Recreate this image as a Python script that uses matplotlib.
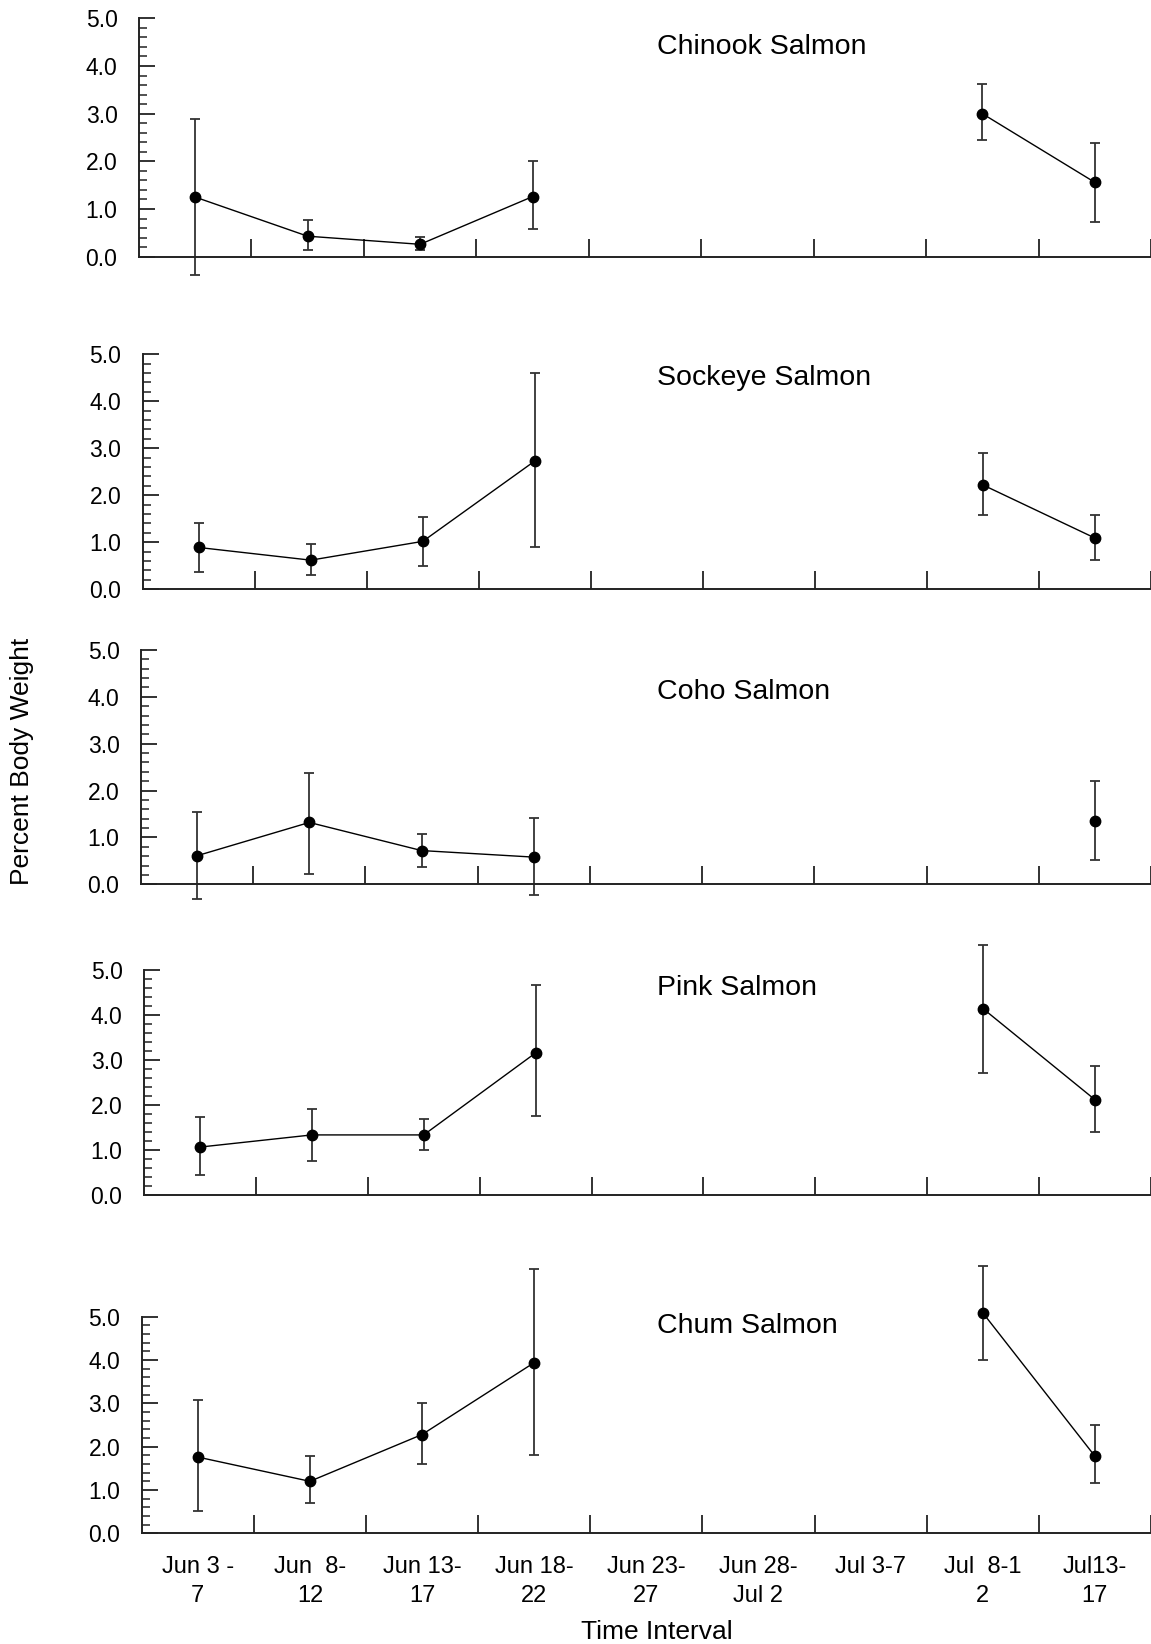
import numpy as np
import matplotlib.pyplot as plt
from matplotlib.ticker import MultipleLocator, FixedLocator

plt.rcParams['font.family'] = ['Liberation Sans', 'DejaVu Sans']

nan = np.nan

intervals = ['Jun 3 -\n7', 'Jun  8-\n12', 'Jun 13-\n17', 'Jun 18-\n22', 'Jun 23-\n27',
             'Jun 28-\nJul 2', 'Jul 3-7', 'Jul  8-1\n2', 'Jul13-\n17']

species = ['Chinook Salmon', 'Sockeye Salmon', 'Coho Salmon', 'Pink Salmon', 'Chum Salmon']

# mean percent body weight, upper and lower ends of the error bars
chinook    = [1.25, 0.43, 0.26, 1.26, nan, nan, nan, 3.00, 1.56]
chinook_hi = [2.88, 0.76, 0.42, 2.01, nan, nan, nan, 3.62, 2.38]
chinook_lo = [-0.39, 0.14, 0.15, 0.59, nan, nan, nan, 2.44, 0.73]

sockeye    = [0.89, 0.62, 1.02, 2.73, nan, nan, nan, 2.22, 1.09]
sockeye_hi = [1.40, 0.96, 1.53, 4.60, nan, nan, nan, 2.89, 1.58]
sockeye_lo = [0.36, 0.31, 0.49, 0.91, nan, nan, nan, 1.58, 0.62]

coho    = [0.61, 1.32, 0.72, 0.58, nan, nan, nan, nan, 1.35]
coho_hi = [1.55, 2.38, 1.08, 1.41, nan, nan, nan, nan, 2.20]
coho_lo = [-0.31, 0.22, 0.36, -0.22, nan, nan, nan, nan, 0.52]

pink    = [1.07, 1.34, 1.34, 3.16, nan, nan, nan, 4.14, 2.12]
pink_hi = [1.73, 1.91, 1.70, 4.67, nan, nan, nan, 5.56, 2.86]
pink_lo = [0.44, 0.76, 1.00, 1.77, nan, nan, nan, 2.72, 1.40]

chum    = [1.76, 1.20, 2.28, 3.94, nan, nan, nan, 5.09, 1.78]
chum_hi = [3.07, 1.78, 3.00, 6.10, nan, nan, nan, 6.16, 2.51]
chum_lo = [0.52, 0.71, 1.59, 1.81, nan, nan, nan, 4.01, 1.17]

means = [chinook, sockeye, coho, pink, chum]
his = [chinook_hi, sockeye_hi, coho_hi, pink_hi, chum_hi]
los = [chinook_lo, sockeye_lo, coho_lo, pink_lo, chum_lo]

W, H = 1151, 1644
fig = plt.figure(figsize=(W / 100, H / 100), dpi=100)

# panel boxes in pixels: left spine x, y of 0.0, y of 5.0
boxes = [(139, 256.7, 18.3), (142.7, 589.3, 354.3), (141, 884.3, 650),
         (144, 1195.3, 970), (141.7, 1533.3, 1316.7)]
title_y = [47, 378, 692, 988, 1326]

x = np.arange(len(intervals)) + 0.5

for k in range(5):
    left, y0, y5 = boxes[k]
    ax = fig.add_axes([left / W, 1 - y0 / H, (W - left) / W, (y0 - y5) / H])
    m = np.array(means[k], dtype=float)
    hi = np.array(his[k], dtype=float)
    lo = np.array(los[k], dtype=float)
    ok = ~np.isnan(m)
    ax.errorbar(x[ok], m[ok], yerr=[m[ok] - lo[ok], hi[ok] - m[ok]], fmt='none',
                ecolor='#333333', elinewidth=1.3, capsize=3.8, capthick=1.3, clip_on=False)
    ax.plot(x, m, color='black', lw=1.0, marker='o', ms=7.5, mfc='black', mec='black',
            clip_on=False, zorder=3)

    ax.set_xlim(0, 9)
    ax.set_ylim(0, 5)
    for s in ['top', 'right']:
        ax.spines[s].set_visible(False)
    for s in ['left', 'bottom']:
        ax.spines[s].set_linewidth(1.4)
        ax.spines[s].set_color('#222222')

    ax.yaxis.set_major_locator(MultipleLocator(1))
    ax.yaxis.set_minor_locator(MultipleLocator(0.2))
    ax.yaxis.set_major_formatter(plt.FuncFormatter(lambda v, p: '%.1f' % v))
    ax.tick_params(axis='y', which='major', direction='in', length=11.5, width=1.3,
                   labelsize=16.5, pad=15.5, color='#222222')
    ax.tick_params(axis='y', which='minor', direction='in', length=6, width=1.1, color='#222222')

    ax.xaxis.set_major_locator(FixedLocator(np.arange(1, 10)))
    ax.xaxis.set_minor_locator(FixedLocator(x))
    ax.tick_params(axis='x', which='major', direction='in', length=13, width=1.3,
                   labelbottom=False, color='#222222')
    ax.tick_params(axis='x', which='minor', length=0, labelsize=17, pad=16)
    if k == 4:
        ax.set_xticklabels(intervals, minor=True)
        for t in ax.get_xticklabels(minor=True):
            t.set_linespacing(1.45)
    else:
        ax.tick_params(axis='x', which='minor', labelbottom=False)

    fig.text(657 / W, 1 - title_y[k] / H, species[k], fontsize=20.5, ha='left', va='center')

fig.text(22 / W, 1 - 761 / H, 'Percent Body Weight', fontsize=19, rotation=90,
         ha='center', va='center')
fig.text(657 / W, 1 - 1632 / H, 'Time Interval', fontsize=19, ha='center', va='center')

fig.savefig('out.png', dpi=100)
